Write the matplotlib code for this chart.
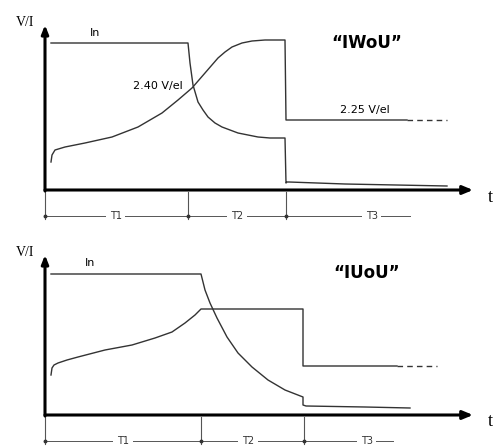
import matplotlib.pyplot as plt

# ---- top panel "IWoU" (units: arbitrary time / level) ----
top_i_x = [6, 143, 145, 148, 153, 158, 163, 170, 177, 185, 193, 203, 213, 225, 240,
           241, 242, 244, 300, 402]
top_i_y = [147, 147, 127, 105, 88, 80, 73, 67, 63, 60, 57, 55, 53, 52, 52,
           7, 8, 8, 6, 4]
top_v_x = [6, 7, 10, 20, 40, 67, 93, 117, 133, 147, 160, 173, 180, 187, 197, 207,
           220, 240, 241, 362]
top_v_y = [28, 35, 40, 43, 47, 53, 63, 77, 90, 102, 117, 132, 138, 143, 147, 149,
           150, 150, 70, 70]
top_v_dash = [362, 402]
top_marks = [0, 143, 241]
top_phase = ["T1", "T2", "T3"]

# ---- bottom panel "IUoU" ----
bot_i_x = [6, 156, 158, 160, 165, 172, 182, 193, 207, 223, 240, 258, 258, 261, 320, 365]
bot_i_y = [141, 141, 133, 125, 112, 97, 78, 62, 48, 35, 25, 18, 10, 9, 8, 7]
bot_v_x = [6, 7, 9, 13, 22, 33, 60, 87, 110, 127, 140, 150, 156, 258, 258, 352]
bot_v_y = [40, 47, 50, 52, 55, 58, 65, 70, 77, 83, 92, 100, 106, 106, 49, 49]
bot_v_dash = [352, 392]
bot_marks = [0, 156, 259]
bot_phase = ["T1", "T2", "T3"]

W, H = 495, 446
fig = plt.figure(figsize=(W / 100, H / 100), dpi=100)


def panel(ax, ix, iy, vx, vy, vdash, vlevel, marks, phases, centers, dim_end, ytop, title):
    ax.set_xlim(0, 428)
    ax.set_ylim(0, ytop)
    ax.axis("off")
    # axes with arrows
    ax.annotate("", xy=(428, 0), xytext=(0, 0), annotation_clip=False,
                arrowprops=dict(arrowstyle="-|>,head_length=0.6,head_width=0.25",
                                lw=2.2, color="black", shrinkA=0, shrinkB=0))
    ax.annotate("", xy=(0, ytop), xytext=(0, -1), annotation_clip=False,
                arrowprops=dict(arrowstyle="-|>,head_length=0.5,head_width=0.2",
                                lw=2.2, color="black", shrinkA=0, shrinkB=0))
    ax.plot(ix, iy, color="#333333", lw=1.0, clip_on=False)
    ax.plot(vx, vy, color="#333333", lw=1.0, clip_on=False)
    ax.plot(vdash, [vlevel, vlevel], color="#333333", lw=1.0, ls=(0, (4, 3)), clip_on=False)
    # phase dimension row
    yd = -26
    ax.plot([0, dim_end], [yd, yd], color="#555555", lw=0.7, clip_on=False)
    for m in marks:
        ax.plot([m, m], [-2, yd - 3], color="#555555", lw=0.8, clip_on=False)
        ax.plot(m, yd, "o", ms=1.8, color="#333333", clip_on=False)
    for c, p in zip(centers, phases):
        ax.text(c, yd, p, ha="center", va="center", fontsize=7, color="#333333",
                bbox=dict(fc="white", ec="none", pad=2.5), clip_on=False)
    ax.text(-20, ytop + 3, "V/I", family="Liberation Serif", fontsize=10,
            ha="center", va="center", clip_on=False)
    ax.text(445, -7, "t", family="Liberation Serif", fontsize=13,
            ha="center", va="center", clip_on=False)
    ax.text(322, ytop - 18, title, fontsize=12, fontweight="bold",
            ha="center", va="center", clip_on=False)


ax1 = fig.add_axes([45 / W, (H - 190) / H, 428 / W, 165 / H])
panel(ax1, top_i_x, top_i_y, top_v_x, top_v_y, top_v_dash, 70,
      top_marks, top_phase, [71, 192, 327], 365, 165, "\u201cIWoU\u201d")
ax1.text(50, 157, "In", fontsize=8, ha="center", va="center")
ax1.text(138, 104, "2.40 V/el", fontsize=8, ha="right", va="center")
ax1.text(320, 80, "2.25 V/el", fontsize=8, ha="center", va="center")

ax2 = fig.add_axes([45 / W, (H - 415) / H, 428 / W, 160 / H])
panel(ax2, bot_i_x, bot_i_y, bot_v_x, bot_v_y, bot_v_dash, 49,
      bot_marks, bot_phase, [78, 203, 322], 348, 160, "\u201cIUoU\u201d")
ax2.text(45, 152, "In", fontsize=8, ha="center", va="center")

fig.savefig("out.png", dpi=100)
